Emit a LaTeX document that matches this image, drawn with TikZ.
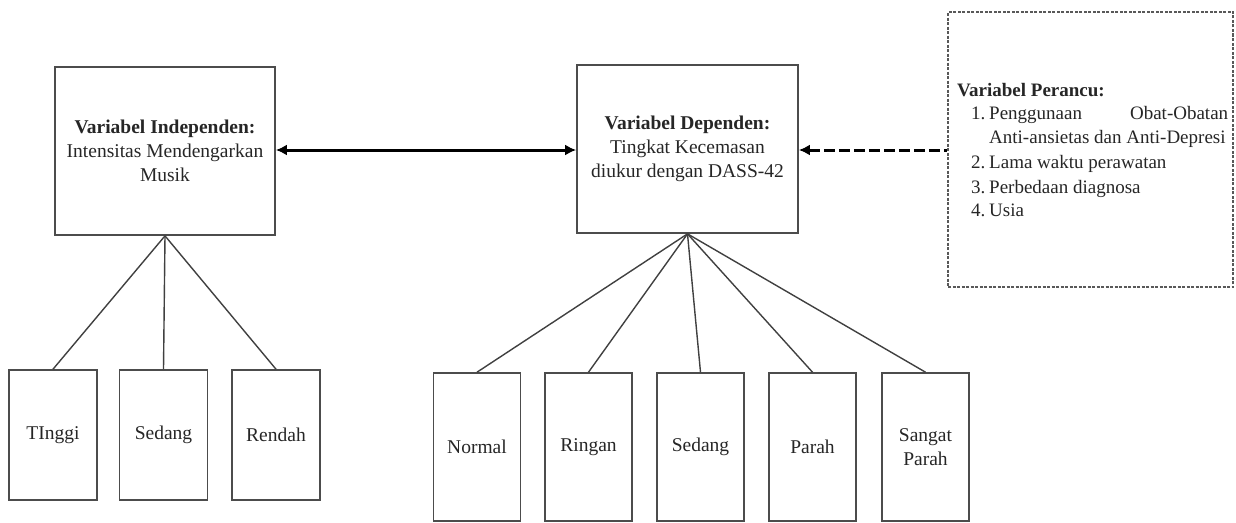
\documentclass[tikz,border=0pt]{standalone}
\usepackage{fontspec}
\setmainfont{Liberation Serif}
\usetikzlibrary{arrows.meta}
\begin{document}
\begin{tikzpicture}[x=1pt,y=-1pt,
  font=\fontsize{19.5}{24}\selectfont,
  varbox/.style={draw=black!70,line width=1.7pt,rectangle,inner sep=0pt,align=center,text=black!85},
  catbox/.style={draw=black!70,line width=1.6pt,rectangle,inner sep=0pt,align=center,text=black!85},
  branch/.style={draw=black!75,line width=1.4pt},
  arr/.style={line width=3pt,black,{Latex[length=11pt,width=11pt]}-{Latex[length=11pt,width=11pt]}},
  darr/.style={line width=3pt,black,dash pattern=on 11pt off 4pt,{Latex[length=11pt,width=11pt]}-},
  txt/.style={inner sep=0pt,anchor=base west,text=black!85,font=\fontsize{19}{24}\selectfont}]
\useasboundingbox (0,0) rectangle (1236,522);
% main boxes
\node[varbox,minimum width=220pt,minimum height=168pt] (inde) at (165,151)
  {\textbf{Variabel Independen:}\\Intensitas Mendengarkan\\Musik};
\node[varbox,minimum width=221pt,minimum height=168pt] (dep) at (687.5,149)
  {\textbf{Variabel Dependen:}\\Tingkat Kecemasan\\diukur dengan DASS-42};
\node[draw=black!65,line width=1.3pt,dash pattern=on 3pt off 1.5pt,rectangle,inner sep=0pt,minimum width=285pt,minimum height=275pt] (per) at (1090.5,149.5) {};
% perancu text
\node[txt] (p0) at (957,96) {\textbf{Variabel Perancu:}};
\node[txt] (p1n) at (971,119) {1.};
\node[txt] (p1) at (989,119) {\makebox[239pt][s]{Penggunaan\hfill Obat-Obatan}};
\node[txt] (p1b) at (989,143) {Anti-ansietas dan Anti-Depresi};
\node[txt] (p2n) at (971,168) {2.};
\node[txt] (p2) at (989,168) {Lama waktu perawatan};
\node[txt] (p3n) at (971,193) {3.};
\node[txt] (p3) at (989,193) {Perbedaan diagnosa};
\node[txt] (p4n) at (971,216) {4.};
\node[txt] (p4) at (989,216) {Usia};
% arrows
\draw[arr] (inde.east |- 0,150) -- (dep.west |- 0,150);
\draw[darr] (dep.east |- 0,150) -- (per.west |- 0,150);
% left categories
\node[catbox,minimum width=88pt,minimum height=130pt] (tinggi) at (53,435) {TInggi};
\node[catbox,minimum width=88pt,minimum height=130pt] (sedang1) at (163.5,435) {Sedang};
\node[catbox,minimum width=88pt,minimum height=130pt] (rendah) at (276,435) {Rendah};
% right categories
\node[catbox,minimum width=87pt,minimum height=148pt] (normal) at (477,447) {Normal};
\node[catbox,minimum width=87pt,minimum height=148pt] (ringan) at (588.5,447) {Ringan};
\node[catbox,minimum width=87pt,minimum height=148pt] (sedang2) at (700.5,447) {Sedang};
\node[catbox,minimum width=87pt,minimum height=148pt] (parah) at (812.5,447) {Parah};
\node[catbox,minimum width=87pt,minimum height=148pt] (sangat) at (925.5,447) {Sangat\\Parah};
% branches
\foreach \c in {tinggi,sedang1,rendah} \draw[branch] (inde.south) -- (\c.north);
\foreach \c in {normal,ringan,sedang2,parah,sangat} \draw[branch] (dep.south) -- (\c.north);
\end{tikzpicture}
\end{document}
